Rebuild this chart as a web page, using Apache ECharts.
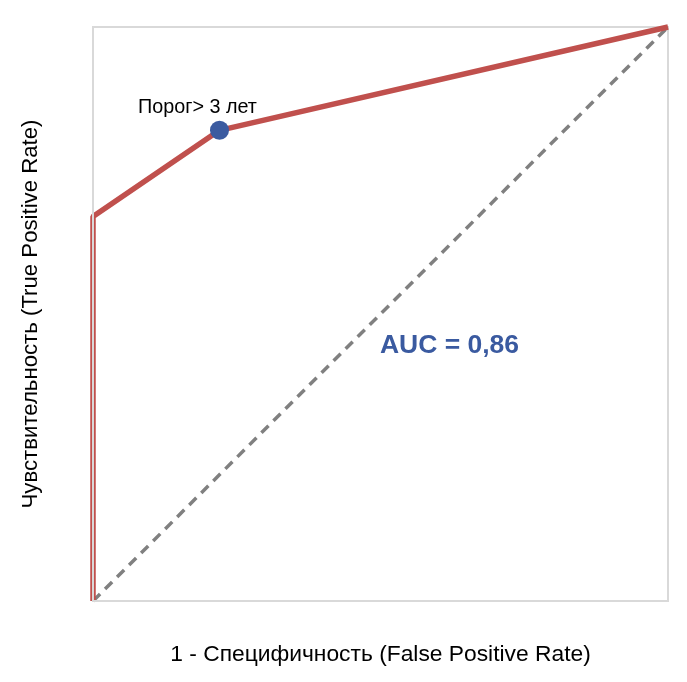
<!DOCTYPE html>
<html>
<head>
<meta charset="utf-8">
<script src="https://cdn.jsdelivr.net/npm/echarts@6/dist/echarts.min.js"></script>
<style>
html, body { margin: 0; padding: 0; background: #fff; }
#chart { width: 687px; height: 682px; }
</style>
</head>
<body>
<div id="chart"></div>
<script>
// ROC кривая
var fpr = [0, 0, 0.22, 1];
var tpr = [0, 0.67, 0.82, 1];
var diagX = [0, 1];
var diagY = [0, 1];
var thresholdPoint = [0.22, 0.82];
var thresholdLabel = 'Порог> 3 лет';
var aucText = 'AUC = 0,86';
var aucPos = [0.62, 0.445];

var chart = echarts.init(document.getElementById('chart'));

var font = 'Liberation Sans, Arial, sans-serif';

var option = {
	animation: false,
	grid: {
		left: 93,
		right: 19,
		top: 27,
		bottom: 81,
		show: true,
		borderColor: '#d9d9d9',
		borderWidth: 2,
		z: 0
	},
	xAxis: {
		type: 'value',
		min: 0,
		max: 1,
		name: '1 - Специфичность (False Positive Rate)',
		nameLocation: 'middle',
		nameGap: 42,
		nameTextStyle: { fontSize: 22.8, color: '#000', fontFamily: font },
		axisLine: { show: true, lineStyle: { color: '#d9d9d9', width: 2 } },
		axisTick: { show: false },
		axisLabel: { show: false },
		splitLine: { show: false },
		z: 5
	},
	yAxis: {
		type: 'value',
		min: 0,
		max: 1,
		name: 'Чувствительность (True Positive Rate)',
		nameLocation: 'middle',
		nameGap: 51,
		nameTextStyle: { fontSize: 22.2, color: '#000', fontFamily: font },
		axisLine: { show: true, lineStyle: { color: '#d9d9d9', width: 2 } },
		axisTick: { show: false },
		axisLabel: { show: false },
		splitLine: { show: false },
		z: 5
	},
	series: [
		{
			// случайный классификатор
			type: 'line',
			data: diagX.map(function (x, i) { return [x, diagY[i]]; }),
			symbol: 'none',
			clip: false,
			lineStyle: { color: '#808080', width: 3.5, type: [10, 7] },
			z: 2
		},
		{
			type: 'line',
			data: fpr.map(function (x, i) { return [x, tpr[i]]; }),
			symbol: 'none',
			clip: false,
			lineStyle: { color: '#c0504d', width: 5.5 },
			z: 3
		},
		{
			type: 'scatter',
			data: [thresholdPoint],
			symbolSize: 19,
			itemStyle: { color: '#3b5ba0', opacity: 1 },
			label: {
				show: true,
				formatter: thresholdLabel,
				position: [-72, -23],
				color: '#000',
				fontSize: 19.8,
				fontFamily: font
			},
			z: 6
		},
		{
			type: 'scatter',
			data: [aucPos],
			symbolSize: 0,
			itemStyle: { opacity: 1 },
			label: {
				show: true,
				position: 'inside',
				formatter: aucText,
				color: '#3a5aa0',
				fontSize: 26.5,
				fontWeight: 'bold',
				fontFamily: font
			},
			z: 6
		}
	]
};

chart.setOption(option);
</script>
</body>
</html>
